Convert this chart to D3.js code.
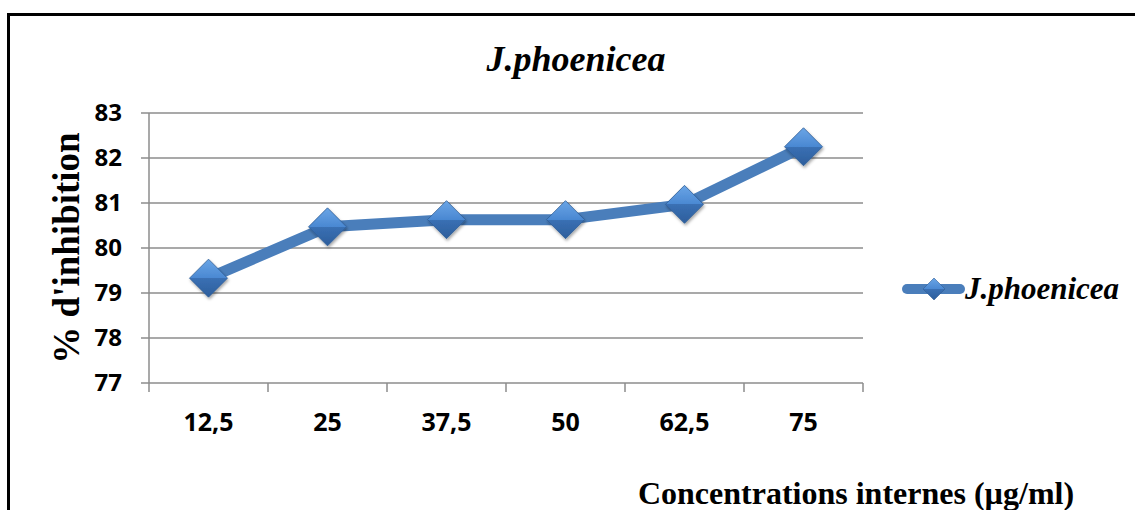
<!DOCTYPE html>
<html>
<head>
<meta charset="utf-8">
<script src="https://cdn.jsdelivr.net/npm/d3@7"></script>
<style>
  body { margin: 0; background: #fff; }
  svg { display: block; }
</style>
</head>
<body>
<div id="chart"></div>
<script>
// données
var concentrations = ['12,5', '25', '37,5', '50', '62,5', '75'];
var inhibition = [79.33, 80.47, 80.63, 80.63, 80.97, 82.25];
var yTicks = [77, 78, 79, 80, 81, 82, 83];
var seriesName = 'J.phoenicea';

var width = 1135, height = 510;
var lineColor = '#4a7ebb';
var serif = '"Liberation Serif", "Times New Roman", Times, serif';
var sans = '"Open Sans", "DejaVu Sans", sans-serif';

var svg = d3.select('#chart').append('svg')
    .attr('width', width)
    .attr('height', height);

var defs = svg.append('defs');
var grad = defs.append('linearGradient')
    .attr('id', 'diamondGrad')
    .attr('x1', 0).attr('y1', 0).attr('x2', 0).attr('y2', 1);
grad.append('stop').attr('offset', '0%').attr('stop-color', '#6aa5e6');
grad.append('stop').attr('offset', '50%').attr('stop-color', '#4a88d2');
grad.append('stop').attr('offset', '50%').attr('stop-color', '#3a70b4');
grad.append('stop').attr('offset', '100%').attr('stop-color', '#2d5e9c');

var shadow = defs.append('filter').attr('id', 'shadow')
    .attr('x', '-50%').attr('y', '-50%').attr('width', '200%').attr('height', '200%');
shadow.append('feDropShadow')
    .attr('dx', 1).attr('dy', 2).attr('stdDeviation', 1.5)
    .attr('flood-color', '#000').attr('flood-opacity', 0.35);

// cadre
svg.append('rect')
    .attr('x', 8.5).attr('y', 14.5)
    .attr('width', 1140).attr('height', 520)
    .style('fill', 'none')
    .style('stroke', '#000')
    .style('stroke-width', 3);

var plotLeft = 149, plotRight = 863, plotTop = 113, plotBottom = 383;

var x = d3.scaleBand()
    .domain(concentrations)
    .range([plotLeft, plotRight]);

var y = d3.scaleLinear()
    .domain([77, 83])
    .range([plotBottom, plotTop]);

// grille
svg.append('g')
    .selectAll('line')
    .data(yTicks)
    .enter()
    .append('line')
    .attr('x1', plotLeft - 8)
    .attr('x2', plotRight)
    .attr('y1', function (d) { return y(d); })
    .attr('y2', function (d) { return y(d); })
    .style('stroke', '#8c8c8c')
    .style('stroke-width', 1.5);

// axe vertical
svg.append('line')
    .attr('x1', plotLeft).attr('x2', plotLeft)
    .attr('y1', plotTop).attr('y2', plotBottom)
    .style('stroke', '#8c8c8c')
    .style('stroke-width', 1.5);

// graduations x
var xTickPos = concentrations.map(function (c) { return x(c); }).concat([plotRight]);
svg.append('g')
    .selectAll('line')
    .data(xTickPos)
    .enter()
    .append('line')
    .attr('x1', function (d) { return d; })
    .attr('x2', function (d) { return d; })
    .attr('y1', plotBottom)
    .attr('y2', plotBottom + 9)
    .style('stroke', '#8c8c8c')
    .style('stroke-width', 1.5);

// étiquettes y
svg.append('g')
    .selectAll('text')
    .data(yTicks)
    .enter()
    .append('text')
    .attr('x', 122)
    .attr('y', function (d) { return y(d) + 8; })
    .attr('text-anchor', 'end')
    .style('font-family', sans)
    .style('font-weight', 'bold')
    .style('font-size', '24px')
    .text(function (d) { return d; });

// étiquettes x
svg.append('g')
    .selectAll('text')
    .data(concentrations)
    .enter()
    .append('text')
    .attr('x', function (d) { return x(d) + x.bandwidth() / 2; })
    .attr('y', 431)
    .attr('text-anchor', 'middle')
    .style('font-family', sans)
    .style('font-weight', 'bold')
    .style('font-size', '25px')
    .text(function (d) { return d; });

// courbe
var line = d3.line()
    .x(function (d, i) { return x(concentrations[i]) + x.bandwidth() / 2; })
    .y(function (d) { return y(d); });

svg.append('path')
    .datum(inhibition)
    .attr('d', line)
    .style('fill', 'none')
    .style('stroke', lineColor)
    .style('stroke-width', 11)
    .style('stroke-linejoin', 'round');

function diamond(r) {
    return 'M0,' + (-r) + 'L' + r + ',0L0,' + r + 'L' + (-r) + ',0Z';
}

svg.append('g')
    .selectAll('path')
    .data(inhibition)
    .enter()
    .append('path')
    .attr('transform', function (d, i) {
        return 'translate(' + (x(concentrations[i]) + x.bandwidth() / 2) + ',' + y(d) + ')';
    })
    .attr('d', diamond(19))
    .style('fill', 'url(#diamondGrad)')
    .style('stroke', '#2f5d96')
    .style('stroke-width', 0.8)
    .style('filter', 'url(#shadow)');

// titre
svg.append('text')
    .attr('x', 576)
    .attr('y', 71)
    .attr('text-anchor', 'middle')
    .style('font-family', serif)
    .style('font-weight', 'bold')
    .style('font-style', 'italic')
    .style('font-size', '36px')
    .text(seriesName);

// titre axe y
svg.append('text')
    .attr('transform', 'translate(79,248) rotate(-90)')
    .attr('text-anchor', 'middle')
    .style('font-family', serif)
    .style('font-weight', 'bold')
    .style('font-size', '37px')
    .text("% d'inhibition");

// titre axe x
svg.append('text')
    .attr('x', 856)
    .attr('y', 504)
    .attr('text-anchor', 'middle')
    .style('font-family', serif)
    .style('font-weight', 'bold')
    .style('font-size', '32px')
    .text('Concentrations internes (µg/ml)');

// légende
var legend = svg.append('g').attr('transform', 'translate(0,289)');
legend.append('line')
    .attr('x1', 907).attr('x2', 960)
    .attr('y1', 0).attr('y2', 0)
    .style('stroke', lineColor)
    .style('stroke-width', 10)
    .style('stroke-linecap', 'round');
legend.append('path')
    .attr('transform', 'translate(934,0)')
    .attr('d', diamond(11))
    .style('fill', 'url(#diamondGrad)')
    .style('stroke', '#2f5d96')
    .style('stroke-width', 0.6);
legend.append('text')
    .attr('x', 965)
    .attr('y', 10)
    .style('font-family', serif)
    .style('font-weight', 'bold')
    .style('font-style', 'italic')
    .style('font-size', '31px')
    .text(seriesName);
</script>
</body>
</html>
